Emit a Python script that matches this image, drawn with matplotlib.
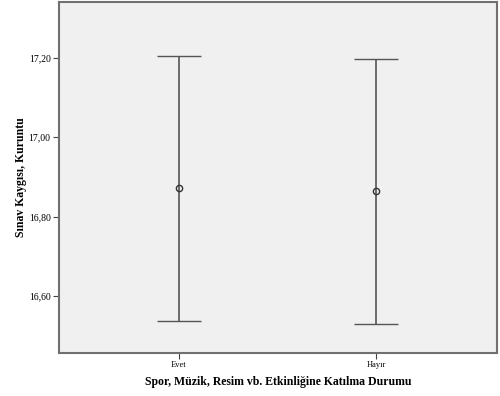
import matplotlib
matplotlib.use("Agg")
import matplotlib.pyplot as plt

categories = ["Evet", "Hayır"]
means = [16.871, 16.864]
upper = [17.205, 17.197]
lower = [16.536, 16.530]
yticks = [16.60, 16.80, 17.00, 17.20]
ytick_labels = ["16,60", "16,80", "17,00", "17,20"]

plt.rcParams['font.family'] = ['Liberation Serif', 'DejaVu Serif']

fig = plt.figure(figsize=(5.0, 3.96), dpi=100)
ax = fig.add_axes([0.118, 0.1086, 0.876, 0.8864])
ax.set_facecolor("#F0F0F0")

x = list(range(len(categories)))
yerr = [[m - l for m, l in zip(means, lower)], [u - m for u, m in zip(upper, means)]]
ax.errorbar(x, means, yerr=yerr, fmt='o', mfc='none', mec='#333333', ms=4.5, mew=1.0,
            ecolor='#555555', elinewidth=1.2, capsize=15.5, capthick=1.3)

ax.set_xlim(-0.609, 1.614)
ax.set_ylim(16.456, 17.341)
ax.set_xticks(x)
ax.set_xticklabels(categories, fontsize=6)
ax.set_yticks(yticks)
ax.set_yticklabels(ytick_labels, fontsize=7)
ax.tick_params(axis='both', length=4, width=0.8, color='#444444', pad=2)

for s in ax.spines.values():
    s.set_color('#707070')
    s.set_linewidth(1.5)

ax.set_xlabel("Spor, Müzik, Resim vb. Etkinliğine Katılma Durumu", fontsize=8.5, fontweight='bold', labelpad=5)
ax.set_ylabel("Sınav Kaygısı, Kuruntu", fontsize=8.5, fontweight='bold', labelpad=1)

fig.savefig("out.png", dpi=100, facecolor='white')
